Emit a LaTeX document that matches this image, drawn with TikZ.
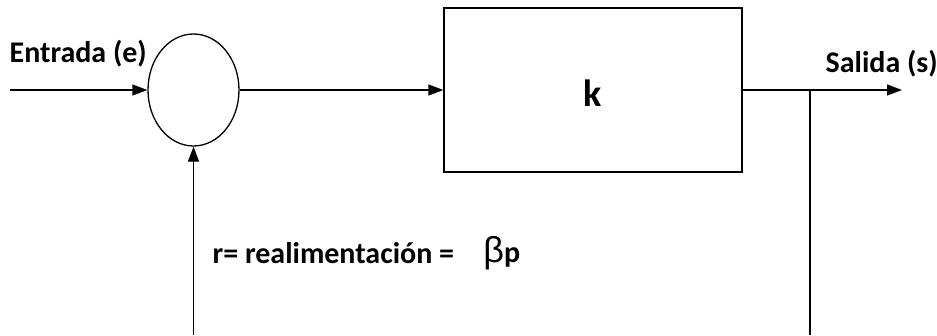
\documentclass[tikz,border=0pt]{standalone}
\usepackage{fontspec}
\setmainfont{Carlito}
\newfontfamily\greekfont{Liberation Sans}
\usetikzlibrary{shapes.geometric, arrows.meta, positioning}

\begin{document}
\begin{tikzpicture}[
    x=1pt, y=-1pt,
    line width=1.3pt,
    sumnode/.style={ellipse, draw, minimum width=91pt, minimum height=112pt, inner sep=0pt},
    block/.style={rectangle, draw, minimum width=298pt, minimum height=164pt},
    label/.style={font=\fontsize{30}{35}\selectfont\bfseries, inner sep=0pt, anchor=west},
    arrow/.style={-{Triangle[length=15pt, width=11pt]}}
]
    \useasboundingbox (0,0) rectangle (937,335);

    % Summing point and gain block
    \node[sumnode] (sum) at (193.5,90) {};
    \node[block] (gain) at (593,90) {};
    \node[font=\fontsize{38}{44}\selectfont\bfseries] (gaintext) at (593,93) {k};

    % Input, output and feedback ends
    \coordinate (in) at (10,90);
    \coordinate (out) at (902,90);
    \coordinate (split) at (810,90);
    \coordinate (fbright) at (810,335);
    \coordinate (fbleft) at (193.5,335);

    % Labels
    \node[label] (entrada) at (9,54) {Entrada (e)};
    \node[label] (salida) at (825,64) {Salida (s)};
    \node[label] (realim) at (212,253) {r= realimentación =};
    \node[label, xshift=28pt] (beta) at (realim.east)
        {{\greekfont\fontsize{36}{40}\selectfont\mdseries β}p};

    \draw[arrow] (in) -- (sum.west);
    \draw[arrow] (sum.east) -- (gain.west);
    \draw[arrow] (gain.east) -- (out);
    \draw (split) -- (fbright);
    \draw[arrow] (fbleft) -- (sum.south);
\end{tikzpicture}
\end{document}
